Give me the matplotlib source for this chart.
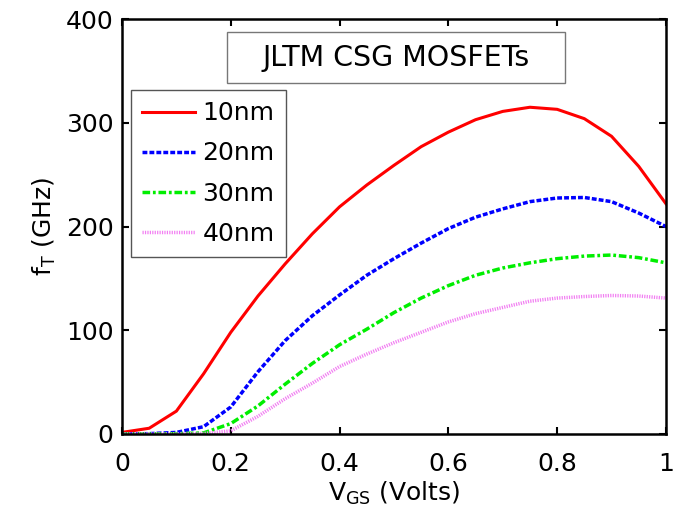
import numpy as np
import matplotlib
matplotlib.use("Agg")
import matplotlib.pyplot as plt
from matplotlib.patches import Rectangle

# datos
vgs = [0.0, 0.05, 0.1, 0.15, 0.2, 0.25, 0.3, 0.35, 0.4, 0.45, 0.5,
       0.55, 0.6, 0.65, 0.7, 0.75, 0.8, 0.85, 0.9, 0.95, 1.0]
ft_10nm = [1.5, 5.5, 22, 58, 98, 133, 164, 193, 219, 240, 259,
           277, 291, 303, 311, 315, 313, 304, 287, 258, 222]
ft_20nm = [0, 0.3, 1.5, 7, 26, 60, 90, 114, 134, 153, 169,
           184, 198, 209, 217, 224, 227.5, 228, 224, 213, 200]
ft_30nm = [0, 0, 0.3, 1, 10, 27, 48, 68, 86, 101, 117,
           131, 143, 153, 160, 165, 169, 171.5, 172.5, 170, 165]
ft_40nm = [0, 0, 0, 0.5, 3, 17, 34, 49, 65, 77, 88,
           98, 108, 116, 122, 128, 131, 132.5, 133.5, 133, 131]
labels = ['10nm', '20nm', '30nm', '40nm']

plt.rcParams['font.family'] = ['DejaVu Sans']
plt.rcParams['mathtext.default'] = 'regular'

fig = plt.figure(figsize=(6.83, 5.16), dpi=100)
ax = fig.add_axes([0.1786, 0.159, 0.7964, 0.804])

ax.plot(vgs, ft_10nm, color='red', lw=2.2, ls='-', label=labels[0])
ax.plot(vgs, ft_20nm, color='blue', lw=2.5, ls=(0, (1.4, 0.6)), label=labels[1])
ax.plot(vgs, ft_30nm, color='#00ee00', lw=2.5, ls=(0, (2.2, 0.8, 0.8, 0.8)), label=labels[2])
ax.plot(vgs, ft_40nm, color='#f27ff2', lw=2.5, ls=(0, (0.35, 0.35)), label=labels[3])

ax.set_xlim(0, 1)
ax.set_ylim(0, 400)
ax.set_xticks([0, 0.2, 0.4, 0.6, 0.8, 1])
ax.set_xticklabels(['0', '0.2', '0.4', '0.6', '0.8', '1'])
ax.set_yticks([0, 100, 200, 300, 400])
ax.tick_params(direction='in', length=5, width=1.5, top=True, right=True,
               labelsize=18)
ax.tick_params(axis='x', pad=13)
ax.tick_params(axis='y', pad=6)
for s in ax.spines.values():
    s.set_linewidth(1.8)

ax.set_xlabel(r'V$_{GS}$ (Volts)', fontsize=18, labelpad=3)
ax.set_ylabel(r'f$_T$ (GHz)', fontsize=18, labelpad=6)

# cuadro del titulo
fig.patches.append(Rectangle((227 / 683, 1 - 83 / 516), 338 / 683, 51 / 516,
                             transform=fig.transFigure, fc='white',
                             ec='#777777', lw=1, zorder=3))
fig.text(396 / 683, 1 - 58 / 516, 'JLTM CSG MOSFETs', fontsize=20.5,
         ha='center', va='center', zorder=4)

leg = ax.legend(loc='upper left', bbox_to_anchor=(131 / 683, 1 - 90 / 516),
                bbox_transform=fig.transFigure, fontsize=18, frameon=True,
                fancybox=False, edgecolor='#555555', framealpha=1,
                borderaxespad=0, handlelength=2.1, handletextpad=0.3,
                labelspacing=0.65, borderpad=0.45)
leg.get_frame().set_linewidth(1)

fig.savefig('out.png', dpi=100)
